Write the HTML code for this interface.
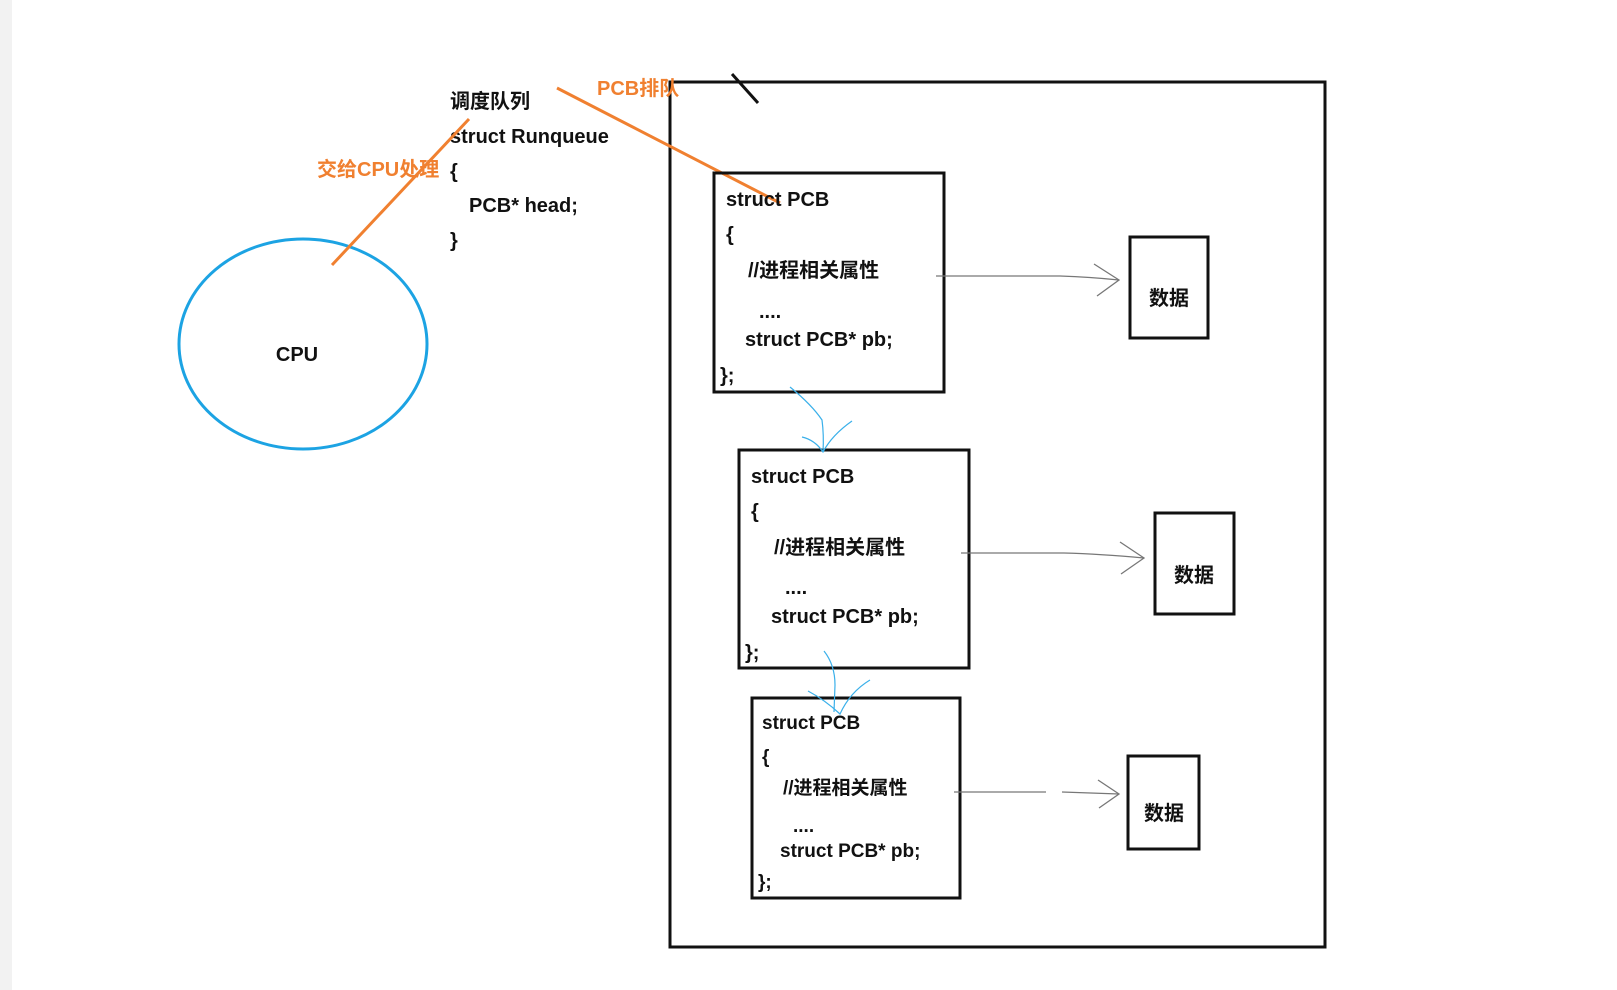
<!DOCTYPE html>
<html><head><meta charset="utf-8"><style>
html,body{margin:0;padding:0;background:#fff;width:1617px;height:990px;overflow:hidden}
svg{display:block}
text{font-family:"Liberation Sans","Noto Sans CJK SC",sans-serif;font-weight:bold;font-size:20px;fill:#111}
.o{fill:#f08030}
</style></head><body>
<svg width="1617" height="990" viewBox="0 0 1617 990">
<rect x="0" y="0" width="12" height="990" fill="#f2f2f2"/>
<rect x="670" y="82" width="655" height="865" fill="none" stroke="#111" stroke-width="3"/>
<line x1="732" y1="74" x2="758" y2="103" stroke="#111" stroke-width="3"/>
<ellipse cx="303" cy="344" rx="124" ry="105" fill="none" stroke="#1ca3e3" stroke-width="3"/>
<text x="297" y="361" text-anchor="middle">CPU</text>
<text x="450" y="108">调度队列</text>
<text x="450" y="143">struct Runqueue</text>
<text x="450" y="178">{</text>
<text x="469" y="212">PCB* head;</text>
<text x="450" y="247">}</text>
<text class="o" x="317" y="176">交给CPU处理</text>
<text class="o" x="597" y="95">PCB排队</text>
<line x1="332" y1="265" x2="469" y2="119" stroke="#f08030" stroke-width="3"/>
<line x1="557" y1="88" x2="780" y2="203" stroke="#f08030" stroke-width="3"/>
<g fill="none" stroke="#111" stroke-width="3">
<rect x="714" y="173" width="230" height="219"/>
<rect x="739" y="450" width="230" height="218"/>
<rect x="752" y="698" width="208" height="200"/>
<rect x="1130" y="237" width="78" height="101"/>
<rect x="1155" y="513" width="79" height="101"/>
<rect x="1128" y="756" width="71" height="93"/>
</g>
<g>
<text x="726" y="206">struct PCB</text><text x="726" y="241">{</text>
<text x="748" y="277">//进程相关属性</text><text x="759" y="318">....</text>
<text x="745" y="346">struct PCB* pb;</text><text x="720" y="382">};</text>
<text x="751" y="483">struct PCB</text><text x="751" y="518">{</text>
<text x="774" y="554">//进程相关属性</text><text x="785" y="594">....</text>
<text x="771" y="623">struct PCB* pb;</text><text x="745" y="659">};</text>
<text x="762" y="729" style="font-size:19px">struct PCB</text><text x="762" y="763" style="font-size:19px">{</text>
<text x="783" y="794" style="font-size:19px">//进程相关属性</text><text x="793" y="832" style="font-size:19px">....</text>
<text x="780" y="857" style="font-size:19px">struct PCB* pb;</text><text x="758" y="888" style="font-size:19px">};</text>
<text x="1169" y="305" text-anchor="middle">数据</text>
<text x="1194" y="582" text-anchor="middle">数据</text>
<text x="1164" y="820" text-anchor="middle">数据</text>
</g>
<g fill="none" stroke="#777" stroke-width="1.3">
<path d="M936 276 L1060 276 Q1090 277 1119 280"/><path d="M1094 264 L1119 280 L1097 296"/>
<path d="M961 553 L1064 553 Q1100 554 1144 558"/><path d="M1120 542 L1144 558 L1121 574"/>
<path d="M954 792 L1046 792"/><path d="M1062 792 L1119 794"/><path d="M1098 780 L1119 794 L1099 808"/>
</g>
<g fill="none" stroke="#3ab0ea" stroke-width="1.2">
<path d="M790 387 Q812 405 822 420 Q824 435 823 452"/><path d="M802 437 Q815 440 823 452 Q832 435 852 421"/>
<path d="M824 651 Q835 665 835 685 L834 712"/><path d="M808 691 Q825 700 840 714 Q850 692 870 680"/>
</g>
</svg>
</body></html>
